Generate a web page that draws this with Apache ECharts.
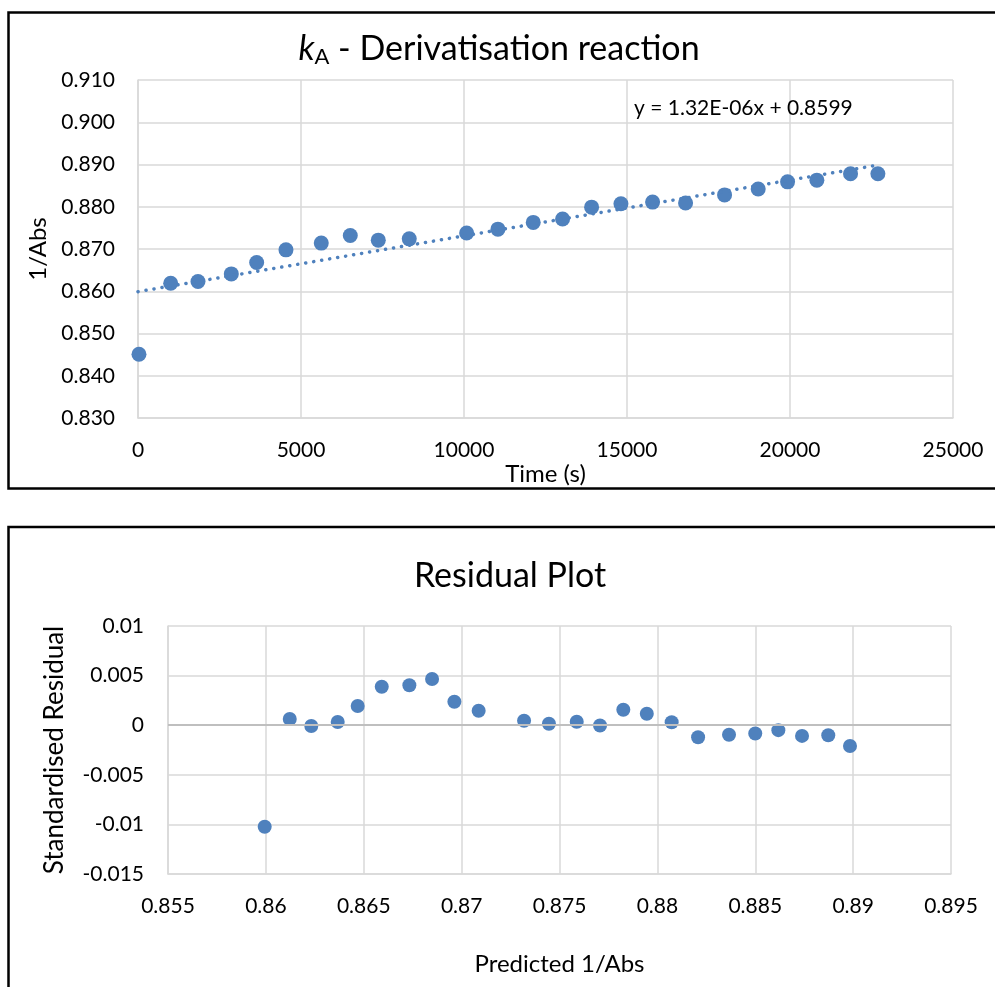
<!DOCTYPE html>
<html>
<head>
<meta charset="utf-8">
<script src="https://cdn.jsdelivr.net/npm/echarts@6/dist/echarts.min.js"></script>
<style>
html,body{margin:0;padding:0;background:#fff;}
#main{width:995px;height:987px;}
</style>
</head>
<body>
<div id="main"></div>
<script>
// ---- Data ----
const timeS = [30, 1003, 1840, 2862, 3640, 4539, 5622, 6512, 7371, 8321, 10081, 11041, 12124, 13024, 13914, 14814, 15785, 16797, 17993, 19025, 19926, 20824, 21857, 22696];
const invAbs = [0.8451, 0.8619, 0.8623, 0.8641, 0.8668, 0.8698, 0.8714, 0.8732, 0.8721, 0.8724, 0.8738, 0.8747, 0.8763, 0.8771, 0.8799, 0.8807, 0.8811, 0.8809, 0.8828, 0.8842, 0.8859, 0.8863, 0.8878, 0.8878];
const predicted = [0.85994, 0.86122, 0.86232, 0.86367, 0.86469, 0.86592, 0.86733, 0.86849, 0.86963, 0.87087, 0.87319, 0.87446, 0.87588, 0.87707, 0.87826, 0.87946, 0.88073, 0.88208, 0.88366, 0.885, 0.88618, 0.88739, 0.88873, 0.88984];
const residual = [-0.01023, 0.00063, -0.00008, 0.00032, 0.00194, 0.00388, 0.00402, 0.00466, 0.00237, 0.00146, 0.00045, 0.00015, 0.00035, -0.00003, 0.00156, 0.00116, 0.00029, -0.00122, -0.00096, -0.00084, -0.0005, -0.00108, -0.00101, -0.00209];
const trendSlope = 1.32e-6;
const trendIntercept = 0.8599;
const trendRange = [0, 22696];
const equationText = 'y = 1.32E-06x + 0.8599';
const topTitle = ['k', 'A', ' - Derivatisation reaction'];
const bottomTitle = 'Residual Plot';
const topXName = 'Time (s)', topYName = '1/Abs';
const botXName = 'Predicted 1/Abs', botYName = 'Standardised Residual';

// ---- Chart ----
const FONT = 'Lato, "Open Sans", sans-serif';
const BLUE = '#4f81bd';
const GRID = '#d9d9d9';
const chart = echarts.init(document.getElementById('main'), null, {renderer: 'canvas'});

const trendData = trendRange.map(x => [x, trendIntercept + trendSlope * x]);
const scatterTop = timeS.map((t, i) => [t, invAbs[i]]);
const scatterBot = predicted.map((p, i) => [p, residual[i]]);
const fmt = v => String(+(+v).toFixed(3));

const axisText = {color: '#000', fontFamily: FONT, fontSize: 21, fontWeight: 'normal'};
const nameText = {color: '#000', fontFamily: FONT, fontSize: 24, fontWeight: 'normal'};

chart.setOption({
  animation: false,
  backgroundColor: '#fff',
  title: [
    {
      text: '{i|' + topTitle[0] + '}{s|' + topTitle[1] + '}{n|' + topTitle[2] + '}',
      left: 494, top: 25, textAlign: 'center',
      textStyle: {
        fontWeight: 'normal',
        rich: {
          i: {fontFamily: FONT, fontSize: 34, fontStyle: 'italic', fontWeight: 'normal', color: '#000'},
          s: {fontFamily: FONT, fontSize: 22, fontWeight: 'normal', color: '#000', verticalAlign: 'bottom', padding: [16, 0, 0, 0]},
          n: {fontFamily: FONT, fontSize: 34, fontWeight: 'normal', color: '#000'}
        }
      }
    },
    {
      text: bottomTitle, left: 505, top: 554, textAlign: 'center',
      textStyle: {fontFamily: FONT, fontSize: 34, fontWeight: 'normal', color: '#000'}
    }
  ],
  graphic: [
    {type: 'rect', shape: {x: 8.5, y: 12.5, width: 1000, height: 476}, style: {fill: 'none', stroke: '#000', lineWidth: 2.5}, silent: true, z: 100},
    {type: 'rect', shape: {x: 8.5, y: 527, width: 1000, height: 500}, style: {fill: 'none', stroke: '#000', lineWidth: 2.5}, silent: true, z: 100},
    {type: 'text', left: 634, top: 98, style: {text: equationText, fontFamily: FONT, fontSize: 21, fill: '#000'}, z: 100}
  ],
  grid: [
    {left: 138, top: 80, width: 815, height: 338, containLabel: false},
    {left: 168, top: 626, width: 783, height: 248, containLabel: false}
  ],
  xAxis: [
    {
      gridIndex: 0, type: 'value', min: 0, max: 25000, interval: 5000,
      name: topXName, nameLocation: 'middle', nameGap: 40,
      nameTextStyle: nameText,
      axisLine: {show: true, lineStyle: {color: GRID, width: 1.5}},
      axisTick: {show: false},
      splitLine: {show: true, lineStyle: {color: GRID, width: 1.5}},
      axisLabel: Object.assign({margin: 22, formatter: v => String(v)}, axisText)
    },
    {
      gridIndex: 1, type: 'value', min: 0.855, max: 0.895, interval: 0.005,
      name: botXName, nameLocation: 'middle', nameGap: 78,
      nameTextStyle: nameText,
      axisLine: {show: true, onZero: false, lineStyle: {color: GRID, width: 1.5}},
      axisTick: {show: false},
      splitLine: {show: true, lineStyle: {color: GRID, width: 1.5}},
      axisLabel: Object.assign({margin: 22, formatter: fmt}, axisText)
    }
  ],
  yAxis: [
    {
      gridIndex: 0, type: 'value', min: 0.83, max: 0.91, interval: 0.01,
      name: topYName, nameLocation: 'middle', nameGap: 86,
      nameTextStyle: nameText,
      axisLine: {show: true, lineStyle: {color: GRID, width: 1.5}},
      axisTick: {show: false},
      splitLine: {show: true, lineStyle: {color: GRID, width: 1.5}},
      axisLabel: Object.assign({margin: 23, formatter: v => (+v).toFixed(3)}, axisText)
    },
    {
      gridIndex: 1, type: 'value', min: -0.015, max: 0.01, interval: 0.005,
      name: botYName, nameLocation: 'middle', nameGap: 100,
      nameTextStyle: Object.assign({}, nameText, {fontSize: 26}),
      axisLine: {show: true, lineStyle: {color: GRID, width: 1.5}},
      axisTick: {show: false},
      splitLine: {show: true, lineStyle: {color: GRID, width: 1.5}},
      axisLabel: Object.assign({margin: 24, formatter: fmt}, axisText)
    }
  ],
  series: [
    {
      type: 'scatter', xAxisIndex: 0, yAxisIndex: 0, data: scatterTop,
      symbolSize: 15, itemStyle: {color: BLUE, opacity: 1}, z: 3
    },
    {
      type: 'line', xAxisIndex: 0, yAxisIndex: 0, data: trendData,
      showSymbol: false, symbol: 'none',
      lineStyle: {color: BLUE, width: 3.5, type: [0.1, 8], cap: 'round'}, z: 4
    },
    {
      type: 'scatter', xAxisIndex: 1, yAxisIndex: 1, data: scatterBot,
      symbolSize: 14, itemStyle: {color: BLUE, opacity: 1}, z: 3,
      markLine: {
        silent: true, symbol: 'none', label: {show: false},
        lineStyle: {color: '#bfbfbf', width: 2, type: 'solid'},
        data: [{yAxis: 0}]
      }
    }
  ]
});
</script>
</body>
</html>
